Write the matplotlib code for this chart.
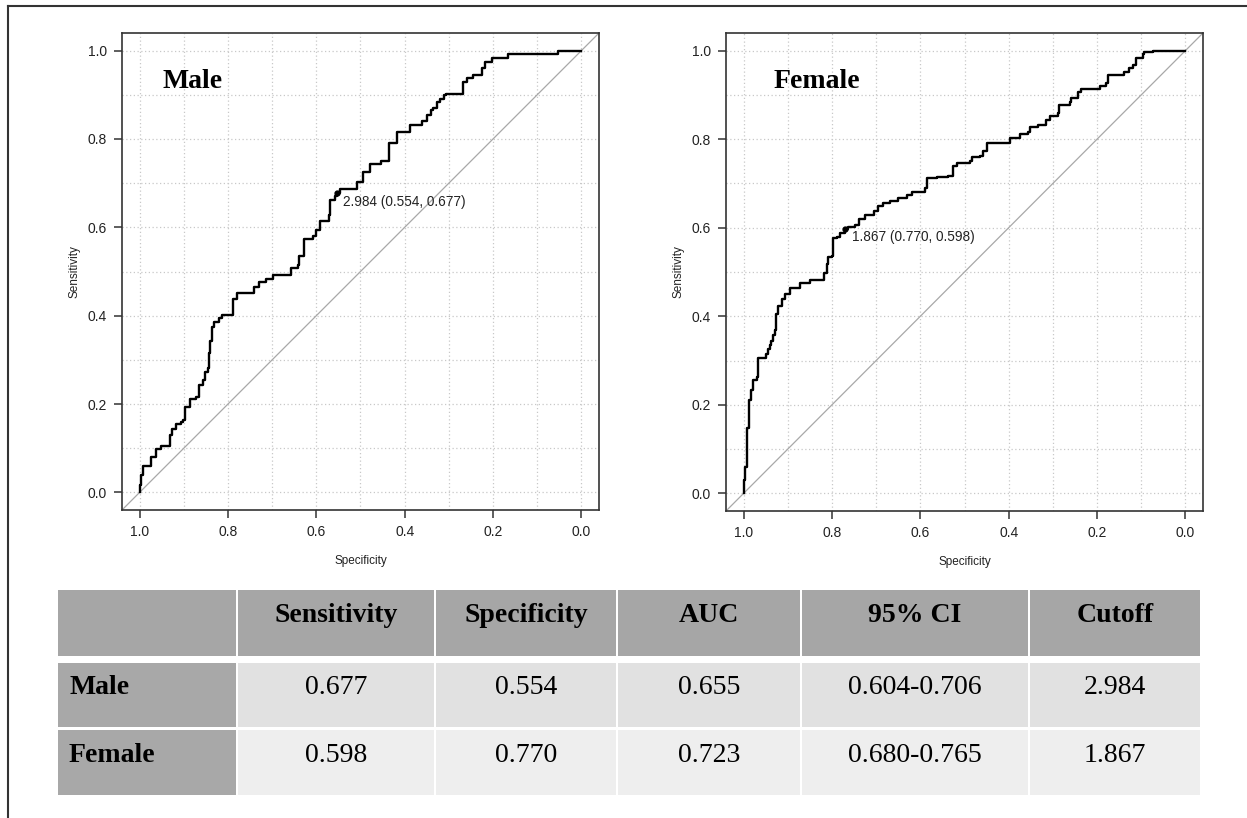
import matplotlib
matplotlib.use("Agg")
import matplotlib.pyplot as plt
from matplotlib.patches import Rectangle

plt.rcParams['font.family'] = ['Liberation Sans', 'DejaVu Sans']

# ROC curves: at each specificity the curve rises to the given sensitivity
male_spec = [1.000, 1.000, 0.996, 0.992, 0.974, 0.962, 0.951, 0.931, 0.926, 0.917,
             0.907, 0.902, 0.898, 0.885, 0.872, 0.866, 0.857, 0.851, 0.845, 0.843,
             0.840, 0.836, 0.832, 0.821, 0.813, 0.789, 0.780, 0.740, 0.730, 0.715,
             0.698, 0.657, 0.642, 0.639, 0.629, 0.608, 0.600, 0.592, 0.571, 0.570,
             0.558, 0.554, 0.547, 0.509, 0.494, 0.478, 0.453, 0.435, 0.417, 0.389,
             0.360, 0.349, 0.341, 0.336, 0.326, 0.321, 0.311, 0.306, 0.268, 0.259,
             0.245, 0.225, 0.219, 0.202, 0.166, 0.053, 0.000]
male_sens = [0.000, 0.016, 0.039, 0.059, 0.080, 0.098, 0.104, 0.129, 0.144, 0.154,
             0.160, 0.164, 0.193, 0.211, 0.215, 0.242, 0.254, 0.273, 0.281, 0.316,
             0.343, 0.374, 0.386, 0.394, 0.402, 0.437, 0.451, 0.464, 0.476, 0.484,
             0.493, 0.509, 0.515, 0.534, 0.573, 0.581, 0.594, 0.615, 0.628, 0.663,
             0.671, 0.677, 0.686, 0.702, 0.725, 0.743, 0.750, 0.790, 0.815, 0.831,
             0.841, 0.854, 0.866, 0.871, 0.883, 0.891, 0.899, 0.903, 0.928, 0.938,
             0.944, 0.961, 0.975, 0.983, 0.993, 1.000, 1.000]

female_spec = [1.000, 0.999, 0.997, 0.993, 0.992, 0.988, 0.984, 0.980, 0.969, 0.967,
               0.950, 0.946, 0.941, 0.937, 0.933, 0.930, 0.927, 0.922, 0.913, 0.906,
               0.895, 0.872, 0.849, 0.819, 0.812, 0.808, 0.799, 0.797, 0.789, 0.782,
               0.770, 0.763, 0.748, 0.738, 0.725, 0.706, 0.695, 0.684, 0.669, 0.650,
               0.631, 0.620, 0.590, 0.586, 0.563, 0.537, 0.526, 0.518, 0.488, 0.482,
               0.465, 0.458, 0.450, 0.416, 0.398, 0.375, 0.356, 0.352, 0.334, 0.315,
               0.307, 0.288, 0.285, 0.262, 0.258, 0.243, 0.236, 0.206, 0.194, 0.179,
               0.175, 0.145, 0.138, 0.127, 0.119, 0.111, 0.096, 0.093, 0.074, 0.000]
female_sens = [0.000, 0.030, 0.060, 0.098, 0.147, 0.211, 0.234, 0.257, 0.263, 0.306,
               0.314, 0.325, 0.336, 0.344, 0.357, 0.370, 0.405, 0.423, 0.440, 0.451,
               0.463, 0.475, 0.482, 0.498, 0.518, 0.533, 0.537, 0.576, 0.580, 0.588,
               0.598, 0.602, 0.607, 0.619, 0.629, 0.638, 0.650, 0.655, 0.661, 0.668,
               0.673, 0.681, 0.690, 0.712, 0.714, 0.716, 0.739, 0.747, 0.751, 0.759,
               0.763, 0.773, 0.791, 0.791, 0.802, 0.812, 0.817, 0.827, 0.833, 0.844,
               0.852, 0.860, 0.877, 0.883, 0.893, 0.907, 0.913, 0.914, 0.921, 0.928,
               0.946, 0.946, 0.953, 0.960, 0.967, 0.984, 0.992, 0.996, 1.000, 1.000]

# best thresholds: (cutoff, specificity, sensitivity)
male_thr = (2.984, 0.554, 0.677)
female_thr = (1.867, 0.770, 0.598)

# summary table
table_header = ["", "Sensitivity", "Specificity", "AUC", "95% CI", "Cutoff"]
table_rows = ["Male", "Female"]
table_values = [["0.677", "0.554", "0.655", "0.604-0.706", "2.984"],
                ["0.598", "0.770", "0.723", "0.680-0.765", "1.867"]]

W, H = 1247, 818
fig = plt.figure(figsize=(W / 100, H / 100), dpi=100)


def plot_roc(rect, spec, sens, thr, title, title_x):
    ax = fig.add_axes(rect)
    ax.set_xlim(1.04, -0.04)
    ax.set_ylim(-0.04, 1.04)
    for v in [i / 10 for i in range(11)]:
        ax.axvline(v, color='#c8c8c8', lw=0.9, ls=(0, (1, 2)), zorder=0)
        ax.axhline(v, color='#c8c8c8', lw=0.9, ls=(0, (1, 2)), zorder=0)
    ax.axline((1, 0), (0, 1), color='#a8a8a8', lw=0.9, zorder=1)
    ax.plot(spec, sens, drawstyle='steps-post', color='black', lw=1.7, zorder=3)
    cut, sp, se = thr
    ax.plot([sp], [se], 'o', color='black', ms=3.5, zorder=4)
    ax.annotate("%.3f (%.3f, %.3f)" % (cut, sp, se), (sp, se),
                xytext=(4.5, -6), textcoords='offset points',
                ha='left', va='center', fontsize=9.8, color='#222222')
    ax.text(title_x, 0.915, title, family='Liberation Serif', fontweight='bold',
            fontsize=20, ha='left', va='baseline')
    ax.set_xticks([1.0, 0.8, 0.6, 0.4, 0.2, 0.0])
    ax.set_yticks([0.0, 0.2, 0.4, 0.6, 0.8, 1.0])
    ax.set_xticklabels(["1.0", "0.8", "0.6", "0.4", "0.2", "0.0"])
    ax.set_yticklabels(["0.0", "0.2", "0.4", "0.6", "0.8", "1.0"])
    ax.tick_params(length=6, width=1.1, pad=5, labelsize=10,
                   color='#333333', labelcolor='#222222')
    for s in ax.spines.values():
        s.set_color('#333333')
        s.set_linewidth(1.2)
    ax.set_xlabel("Specificity", fontsize=8.5, labelpad=11, color='#222222')
    ax.set_ylabel("Sensitivity", fontsize=8.5, labelpad=5, color='#222222')
    return ax


plot_roc([122 / W, 1 - 510 / H, 477 / W, 477 / H],
         male_spec, male_sens, male_thr, "Male", 0.948)
plot_roc([726 / W, 1 - 511 / H, 477 / W, 478 / H],
         female_spec, female_sens, female_thr, "Female", 0.932)

# overlay in pixel coordinates for the table and border
ov = fig.add_axes([0, 0, 1, 1])
ov.set_xlim(0, W)
ov.set_ylim(H, 0)
ov.axis('off')

ov.plot([8, 8], [6, H], color='#333333', lw=1.5)
ov.plot([8, W], [6, 6], color='#333333', lw=1.5)

col_edges = [57, 237, 435, 617, 801, 1029, 1201]
row_edges = [(590, 656), (663, 727), (730, 795)]
row_colors = ['#e1e1e1', '#eeeeee']

for j in range(len(table_header)):
    x0, x1 = col_edges[j], col_edges[j + 1]
    y0, y1 = row_edges[0]
    ov.add_patch(Rectangle((x0 + 1, y0), x1 - x0 - 2, y1 - y0, color='#a6a6a6', lw=0))
    ov.text((x0 + x1) / 2, (y0 + y1) / 2 - 7, table_header[j],
            family='Liberation Serif', fontweight='bold', fontsize=20,
            ha='center', va='center')

for i, name in enumerate(table_rows):
    y0, y1 = row_edges[i + 1]
    cy = (y0 + y1) / 2 - 7
    x0, x1 = col_edges[0], col_edges[1]
    ov.add_patch(Rectangle((x0 + 1, y0), x1 - x0 - 2, y1 - y0, color='#a8a8a8', lw=0))
    ov.text(x0 + 12, cy, name, family='Liberation Serif', fontweight='bold',
            fontsize=20, ha='left', va='center')
    for j, val in enumerate(table_values[i]):
        x0, x1 = col_edges[j + 1], col_edges[j + 2]
        ov.add_patch(Rectangle((x0 + 1, y0), x1 - x0 - 2, y1 - y0,
                               color=row_colors[i], lw=0))
        ov.text((x0 + x1) / 2, cy, val, family='Liberation Serif', fontsize=20,
                ha='center', va='center')

fig.savefig("out.png", dpi=100)
